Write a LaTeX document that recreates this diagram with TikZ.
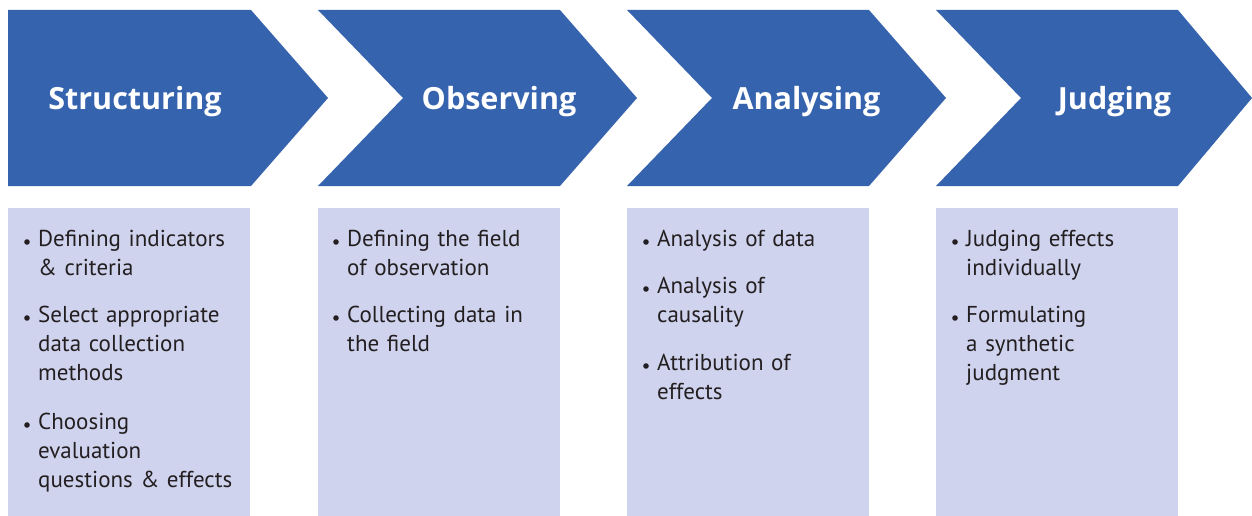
\documentclass[tikz,border=0pt]{standalone}
\usepackage{fontspec}
\setmainfont{PT Sans}[WordSpace=0.8]
\newfontfamily\titlefont{Open Sans}
\definecolor{chev}{RGB}{53,99,174}
\definecolor{boxfill}{RGB}{207,211,238}
\definecolor{txt}{RGB}{35,31,32}
\usetikzlibrary{calc}
\tikzset{
  chevron/.style={fill=chev, draw=none},
  panel/.style={fill=boxfill, draw=none},
  title/.style={text=white, font=\titlefont\bfseries\fontsize{30.5}{36}\selectfont, inner sep=0pt, anchor=base},
  item/.style={text=txt, font=\fontsize{23}{29}\selectfont, inner sep=0pt, anchor=base west, text width=205pt, align=left},
  bullet/.style={fill=txt}
}
\newcommand{\bul}[1]{\fill[bullet] ($(#1.base west)+(-11,-4)$) circle (2.8);}
\begin{document}
\begin{tikzpicture}[x=1pt,y=-1pt]
\useasboundingbox (0,0) rectangle (1252,516);
\fill[white] (0,0) rectangle (1252,516);
% chevrons
\fill[chevron] (8,10) -- (251,10) -- (328,98) -- (251,186) -- (8,186) -- cycle;
\fill[chevron] (318,10) -- (560,10) -- (637,98) -- (560,186) -- (318,186) -- (403,98) -- cycle;
\fill[chevron] (627,10) -- (869,10) -- (946,98) -- (869,186) -- (627,186) -- (712,98) -- cycle;
\fill[chevron] (936,10) -- (1178,10) -- (1252,98) -- (1178,186) -- (936,186) -- (1021,98) -- cycle;
\node[title] (t1) at (135,110) {Structuring};
\node[title] (t2) at (499,110) {Observing};
\node[title] (t3) at (806.5,110) {Analysing};
\node[title] (t4) at (1114.5,110) {Judging};
% panels
\fill[panel] (8,208) rectangle (250,516);
\fill[panel] (318,208) rectangle (560,516);
\fill[panel] (627,208) rectangle (869,516);
\fill[panel] (936,208) rectangle (1178,516);
% box 1
\node[item] (a1) at (38,246) {Defining indicators\\ \& criteria};
\node[item] (a2) at (38,322) {Select appropriate\\ data collection\\ methods};
\node[item] (a3) at (38,429) {Choosing\\ evaluation\\ questions \& effects};
% box 2
\node[item] (b1) at (347,246) {Defining the field\\ of observation};
\node[item] (b2) at (347,322) {Collecting data in\\ the field};
% box 3
\node[item] (c1) at (657,246) {Analysis of data};
\node[item] (c2) at (657,293) {Analysis of\\ causality};
\node[item] (c3) at (657,370) {Attribution of\\ effects};
% box 4
\node[item] (d1) at (966,246) {Judging effects\\ individually};
\node[item] (d2) at (966,322) {Formulating\\ a synthetic\\ judgment};
\bul{a1}\bul{a2}\bul{a3}
\bul{b1}\bul{b2}
\bul{c1}\bul{c2}\bul{c3}
\bul{d1}\bul{d2}
\end{tikzpicture}
\end{document}
